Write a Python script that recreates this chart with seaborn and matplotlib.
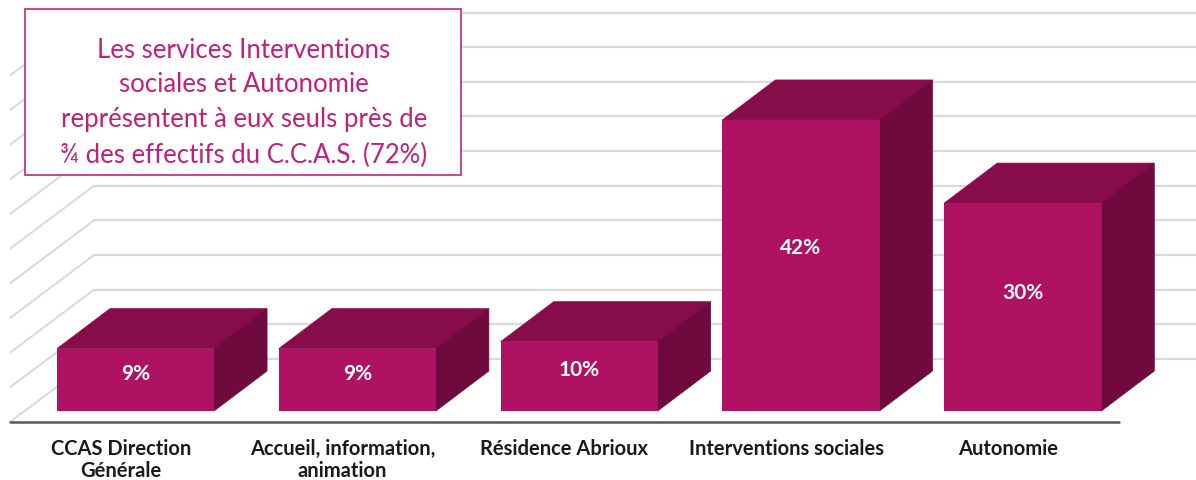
import matplotlib
matplotlib.use("Agg")
import matplotlib.pyplot as plt
from matplotlib.patches import Polygon, Rectangle
import seaborn as sns
import pandas as pd

# ---------------- data ----------------
categories = ["CCAS Direction\nGénérale", "Accueil, information,\nanimation",
              "Résidence Abrioux", "Interventions sociales", "Autonomie"]
values = [9, 9, 10, 42, 30]
value_labels = ["9%", "9%", "10%", "42%", "30%"]
gridline_values = [0, 5, 10, 15, 20, 25, 30, 35, 40, 45, 50]
note_lines = ["Les services Interventions",
              "sociales et Autonomie",
              "représentent à eux seuls près de",
              "¾ des effectifs du C.C.A.S. (72%)"]

# ---------------- style ----------------
FRONT = "#b01263"
TOP = "#870c4a"
SIDE = "#700a3e"
GRID = "#d9d9d9"
AXIS = "#595959"
NOTE = "#c0207a"

sns.set_theme(style="white")
plt.rcParams["font.family"] = ["Lato", "DejaVu Sans"]

W, H = 1196, 481
fig = plt.figure(figsize=(W / 100, H / 100), dpi=100)
ax = fig.add_axes([0, 0, 1, 1])

df = pd.DataFrame({"cat": categories, "val": values})
bar_w = 0.708
sns.barplot(data=df, x="cat", y="val", width=bar_w, color=FRONT,
            saturation=1, ax=ax, zorder=3, linewidth=0)

# pseudo-3D geometry (in data units)
depth_dx, depth_dy = 0.239, 5.77        # bar depth
front_dx, front_dy = -0.0663, -1.59     # floor front relative to bar front
back_dx, back_dy = 0.3128, 7.50         # back wall relative to bar front
n = len(categories)
floor_left_front = -0.5 + front_dx
floor_left_back = -0.5 + back_dx
floor_right_front = n - 0.5 + front_dx

# back wall gridlines and left wall lines
for g in gridline_values:
    ax.plot([floor_left_front, floor_left_back], [g + front_dy, g + back_dy],
            color=GRID, lw=1.4, zorder=0, solid_capstyle="butt")
    ax.plot([floor_left_back, n + 2], [g + back_dy, g + back_dy],
            color=GRID, lw=1.6, zorder=0)

# front axis line
ax.plot([floor_left_front, floor_right_front], [front_dy, front_dy],
        color=AXIS, lw=1.8, zorder=1)

# top and side faces from the seaborn bars
for p in list(ax.patches):
    x0, w, h = p.get_x(), p.get_width(), p.get_height()
    top = Polygon([(x0, h), (x0 + w, h), (x0 + w + depth_dx, h + depth_dy),
                   (x0 + depth_dx, h + depth_dy)], closed=True,
                  facecolor=TOP, edgecolor=TOP, lw=0.5, zorder=2)
    side = Polygon([(x0 + w, 0), (x0 + w, h), (x0 + w + depth_dx, h + depth_dy),
                    (x0 + w + depth_dx, depth_dy)], closed=True,
                   facecolor=SIDE, edgecolor=SIDE, lw=0.5, zorder=2)
    ax.add_patch(top)
    ax.add_patch(side)

# value labels
for i, (v, lab) in enumerate(zip(values, value_labels)):
    ax.text(i, v * 0.55 + 0.6, lab, color="white", fontweight="bold", fontsize=15,
            ha="center", va="center", zorder=5)

# category labels
for i, c in enumerate(categories):
    ax.text(i + front_dx, -3.9, c, color="#1a1a1a", fontweight="bold",
            fontsize=14.5, ha="center", va="top", linespacing=1.12, zorder=5)

ax.set_xlim(-0.611, 4.781)
ax.set_ylim(-9.96, 59.45)
ax.axis("off")

# annotation box
fig.patches.append(Rectangle((25 / W, 1 - 176 / H), (461 - 25) / W, (176 - 10) / H,
                             transform=fig.transFigure, facecolor="white",
                             edgecolor="#c8367f", lw=1.3, zorder=1))
for k, line in enumerate(note_lines):
    fig.text(244 / W, 1 - (50 + 35 * k) / H, line, color=NOTE, fontsize=18.5,
             ha="center", va="center", zorder=3)

fig.savefig("out.png", dpi=100)
